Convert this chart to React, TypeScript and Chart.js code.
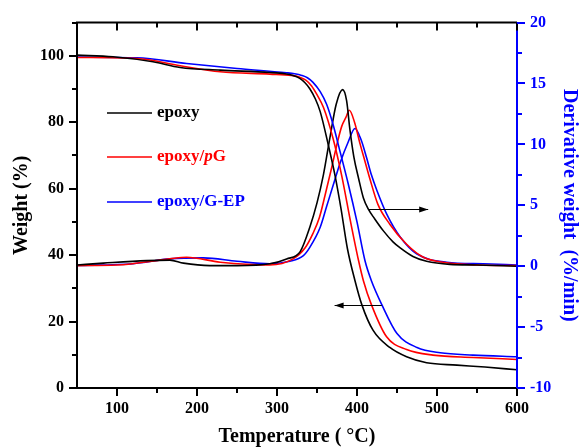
import React, { useEffect, useRef } from "react";
import { Chart, registerables } from "chart.js";

Chart.register(...registerables);

// ---- tick values ----
const tempTicks = [100, 200, 300, 400, 500, 600];
const tempMinorTicks = [150, 250, 350, 450, 550];
const weightTicks = [0, 20, 40, 60, 80, 100];
const weightMinorTicks = [10, 30, 50, 70, 90, 110];
const derivTicks = [-10, -5, 0, 5, 10, 15, 20];
const derivMinorTicks = [-7.5, -2.5, 2.5, 7.5, 12.5, 17.5];

// ---- series ----
const seriesNames = ["epoxy", "epoxy/pG", "epoxy/G-EP"];
const seriesColors = ["#000000", "#ff0000", "#0000ff"];

// TGA (weight %, left axis)
const tgaEpoxyT = [50, 95, 145, 179, 229, 291, 310, 320, 328, 335, 341, 348, 354, 364, 372.5, 380, 388, 397.5, 406, 420, 441, 462, 487, 525, 560, 600];
const tgaEpoxyW = [100.2, 99.7, 98.2, 96.5, 95.7, 95.0, 94.6, 94.1, 93.3, 91.9, 90.1, 87.0, 83.2, 73.3, 64, 54, 42, 32.3, 25.1, 17.4, 12.2, 9.4, 7.6, 6.9, 6.3, 5.5];

const tgaPGT = [50, 125, 179, 229, 291, 318, 328, 336, 343, 350, 358, 370, 381, 392, 402, 408, 418, 437, 462, 495, 545, 600];
const tgaPGW = [99.5, 99.2, 97.0, 95.2, 94.5, 94.1, 93.6, 92.7, 91.0, 88.3, 84.5, 75.2, 63.8, 50, 38.3, 32.3, 25.1, 15.4, 11.6, 9.9, 9.2, 8.6];

const tgaGEPT = [50, 125, 187, 250, 312, 322, 331, 338, 345, 354, 362, 370, 379, 389, 400, 410, 418, 431, 450, 475, 504, 545, 600];
const tgaGEPW = [99.6, 99.4, 97.7, 96.2, 94.9, 94.6, 94.1, 93.4, 92.0, 89.2, 85.4, 79.4, 71.0, 61.5, 50, 38.3, 32.3, 25.1, 16.4, 12.2, 10.6, 9.9, 9.4];

// DTG (%/min, right axis)
const dtgEpoxyT = [50, 83, 137, 166, 183, 216, 250, 291, 312, 329, 341, 350, 358, 366, 374, 382, 387, 391, 396, 402, 408, 414, 422, 433, 445, 454, 470, 487, 516, 550, 600];
const dtgEpoxyV = [0.1, 0.25, 0.46, 0.5, 0.25, 0.05, 0.05, 0.2, 0.6, 1.2, 3.2, 5.2, 7.5, 10.5, 13.3, 14.5, 13.6, 11.3, 9.0, 7.2, 5.6, 4.7, 3.9, 2.9, 2.0, 1.5, 0.8, 0.4, 0.15, 0.1, 0.0];

const dtgPGT = [50, 100, 166, 187, 229, 291, 320, 335, 345, 353, 360, 368, 376, 381, 386, 390.4, 397, 404, 410, 416, 426, 441, 462, 483, 510, 550, 600];
const dtgPGV = [0.05, 0.1, 0.6, 0.73, 0.33, 0.1, 0.6, 1.5, 2.7, 4.0, 5.8, 8.0, 10.3, 11.5, 12.2, 12.8, 11.8, 10.0, 8.6, 7.2, 5.1, 3.45, 1.8, 0.73, 0.3, 0.1, 0.05];

const dtgGEPT = [50, 120, 166, 208, 250, 291, 316, 333, 341, 354, 362, 370, 379, 389, 397.5, 405, 412, 418, 425, 437, 454, 475, 512, 558, 600];
const dtgGEPV = [0.06, 0.2, 0.6, 0.68, 0.4, 0.2, 0.4, 0.87, 1.55, 3.2, 4.9, 6.6, 8.5, 10.2, 11.3, 10.4, 8.9, 7.5, 6.2, 4.3, 2.4, 1.0, 0.33, 0.2, 0.1];

// annotation arrows (data coordinates)
const dtgArrow = { y: 4.68, from: 414, to: 489 }; // points right -> DTG axis
const tgaArrow = { y: 25.1, from: 431, to: 372 }; // points left -> weight axis

const FONT = "'Liberation Serif', 'Times New Roman', serif";

const toPts = (t: number[], v: number[]) => t.map((x, i) => ({ x, y: v[i] }));

const framePlugin = {
  id: "framePlugin",
  afterDraw(chart: any) {
    const { ctx, chartArea } = chart;
    const { left, right, top, bottom } = chartArea;
    const sx = chart.scales.x;
    const sl = chart.scales.yL;
    const sr = chart.scales.yR;
    ctx.save();
    ctx.lineCap = "butt";
    // frame
    ctx.lineWidth = 2;
    ctx.strokeStyle = "#000";
    ctx.beginPath();
    ctx.moveTo(right, top);
    ctx.lineTo(left, top);
    ctx.lineTo(left, bottom);
    ctx.lineTo(right, bottom);
    ctx.stroke();
    ctx.strokeStyle = "#0000ff";
    ctx.beginPath();
    ctx.moveTo(right, top);
    ctx.lineTo(right, bottom);
    ctx.stroke();

    const MAJ = 8;
    const MIN = 5;
    // x ticks: bottom outward, top inward
    ctx.strokeStyle = "#000";
    ctx.beginPath();
    const xt = (vals: number[], len: number) => {
      vals.forEach((v) => {
        const p = Math.round(sx.getPixelForValue(v));
        ctx.moveTo(p, bottom);
        ctx.lineTo(p, bottom + len);
        ctx.moveTo(p, top);
        ctx.lineTo(p, top + len);
      });
    };
    xt(tempTicks, MAJ);
    xt(tempMinorTicks, MIN);
    // left ticks outward
    const lt = (vals: number[], len: number) => {
      vals.forEach((v) => {
        const p = Math.round(sl.getPixelForValue(v));
        ctx.moveTo(left, p);
        ctx.lineTo(left - len, p);
      });
    };
    lt(weightTicks, MAJ);
    lt(weightMinorTicks, MIN);
    ctx.stroke();
    // right ticks outward, blue
    ctx.strokeStyle = "#0000ff";
    ctx.beginPath();
    const rt = (vals: number[], len: number) => {
      vals.forEach((v) => {
        const p = Math.round(sr.getPixelForValue(v));
        ctx.moveTo(right, p);
        ctx.lineTo(right + len, p);
      });
    };
    rt(derivTicks, MAJ);
    rt(derivMinorTicks, MIN);
    ctx.stroke();

    // arrows
    const arrow = (x1: number, x2: number, y: number) => {
      ctx.strokeStyle = "#000";
      ctx.fillStyle = "#000";
      ctx.lineWidth = 1;
      ctx.beginPath();
      ctx.moveTo(x1, y);
      ctx.lineTo(x2, y);
      ctx.stroke();
      const dir = x2 > x1 ? 1 : -1;
      ctx.beginPath();
      ctx.moveTo(x2, y);
      ctx.lineTo(x2 - dir * 9, y - 3);
      ctx.lineTo(x2 - dir * 9, y + 3);
      ctx.closePath();
      ctx.fill();
    };
    arrow(sx.getPixelForValue(dtgArrow.from), sx.getPixelForValue(dtgArrow.to), Math.round(sr.getPixelForValue(dtgArrow.y)) + 0.5);
    arrow(sx.getPixelForValue(tgaArrow.from), sx.getPixelForValue(tgaArrow.to), Math.round(sl.getPixelForValue(tgaArrow.y)) + 0.5);

    // legend
    const lx0 = left + 30;
    const lx1 = left + 75;
    const tx = left + 80;
    const ys = [113, 157, 202];
    ctx.textBaseline = "middle";
    seriesNames.forEach((name, i) => {
      const y = ys[i];
      ctx.strokeStyle = seriesColors[i];
      ctx.lineWidth = 1.6;
      ctx.beginPath();
      ctx.moveTo(lx0, y);
      ctx.lineTo(lx1, y);
      ctx.stroke();
      ctx.fillStyle = seriesColors[i];
      if (name === "epoxy/pG") {
        let x = tx;
        const parts: [string, boolean][] = [["epoxy/", false], ["p", true], ["G", false]];
        parts.forEach(([s, it]) => {
          ctx.font = `${it ? "italic " : ""}bold 17px ${FONT}`;
          ctx.fillText(s, x, y);
          x += ctx.measureText(s).width;
        });
      } else {
        ctx.font = `bold 17px ${FONT}`;
        ctx.fillText(name, tx, y);
      }
    });
    ctx.restore();
  },
};

export default function App() {
  const ref = useRef<HTMLCanvasElement | null>(null);
  useEffect(() => {
    if (!ref.current) return;
    const tickFont = { family: FONT, size: 16, weight: "bold" as const };
    const titleFont = { family: FONT, size: 20, weight: "bold" as const, lineHeight: 1 };
    const lineDs = (label: string, t: number[], v: number[], color: string, axis: string) => ({
      label,
      data: toPts(t, v),
      borderColor: color,
      backgroundColor: color,
      borderWidth: 1.6,
      pointRadius: 0,
      cubicInterpolationMode: "monotone" as const,
      yAxisID: axis,
      xAxisID: "x",
    });
    const chart = new Chart(ref.current, {
      type: "line",
      data: {
        datasets: [
          lineDs(seriesNames[0] + " TGA", tgaEpoxyT, tgaEpoxyW, seriesColors[0], "yL"),
          lineDs(seriesNames[1] + " TGA", tgaPGT, tgaPGW, seriesColors[1], "yL"),
          lineDs(seriesNames[2] + " TGA", tgaGEPT, tgaGEPW, seriesColors[2], "yL"),
          lineDs(seriesNames[0] + " DTG", dtgEpoxyT, dtgEpoxyV, seriesColors[0], "yR"),
          lineDs(seriesNames[1] + " DTG", dtgPGT, dtgPGV, seriesColors[1], "yR"),
          lineDs(seriesNames[2] + " DTG", dtgGEPT, dtgGEPV, seriesColors[2], "yR"),
        ],
      },
      options: {
        responsive: false,
        animation: false,
        layout: { padding: { top: 20, left: 0, right: 0, bottom: 0 } },
        plugins: { legend: { display: false }, tooltip: { enabled: false } },
        scales: {
          x: {
            type: "linear",
            position: "bottom",
            min: 50,
            max: 600,
            afterBuildTicks: (s: any) => {
              s.ticks = tempTicks.map((v) => ({ value: v }));
            },
            afterFit: (s: any) => {
              s.height = 60;
            },
            grid: { display: false, drawTicks: false },
            border: { display: false },
            ticks: { color: "#000", font: tickFont, padding: 11, maxRotation: 0, autoSkip: false },
            title: { display: true, text: "Temperature ( °C)", color: "#000", font: titleFont, padding: { top: 0, bottom: 1 } },
          },
          yL: {
            type: "linear",
            position: "left",
            min: 0,
            max: 110,
            afterBuildTicks: (s: any) => {
              s.ticks = weightTicks.map((v) => ({ value: v }));
            },
            afterFit: (s: any) => {
              s.width = 77;
            },
            grid: { display: false, drawTicks: false },
            border: { display: false },
            ticks: { color: "#000", font: tickFont, padding: 13 },
            title: { display: true, text: "Weight (%)", color: "#000", font: titleFont, padding: { top: 12, bottom: 0 } },
          },
          yR: {
            type: "linear",
            position: "right",
            min: -10,
            max: 20,
            afterBuildTicks: (s: any) => {
              s.ticks = derivTicks.map((v) => ({ value: v }));
            },
            afterFit: (s: any) => {
              s.width = 62;
            },
            grid: { display: false, drawTicks: false },
            border: { display: false },
            ticks: { color: "#0000ff", font: tickFont, padding: 13 },
            title: { display: true, text: "Derivative weight  (%/min)", color: "#0000ff", font: titleFont, padding: { top: 0, bottom: 0 } },
          },
        },
      },
      plugins: [framePlugin],
    });
    return () => chart.destroy();
  }, []);
  return (
    <div style={{ position: "absolute", left: 0, top: 0, width: 579, height: 448, background: "#fff" }}>
      <canvas ref={ref} width={579} height={448} style={{ display: "block" }} />
    </div>
  );
}
